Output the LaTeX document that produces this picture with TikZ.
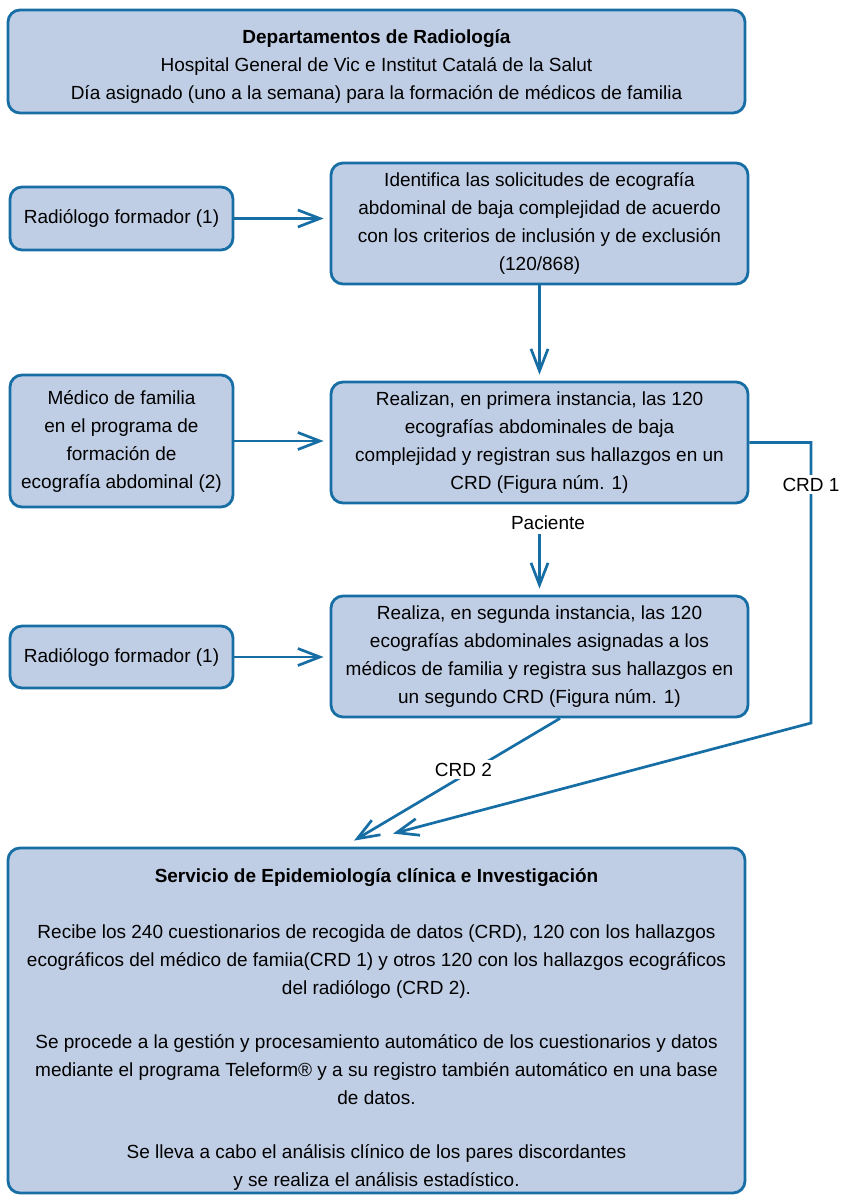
\documentclass[tikz,border=0pt]{standalone}
\usepackage{fontspec}
\setmainfont{Liberation Sans}
\usepackage{tikz}
\usetikzlibrary{arrows.meta,positioning,calc}
\definecolor{eblue}{RGB}{22,110,165}
\definecolor{efill}{RGB}{192,206,229}

\begin{document}
\begin{tikzpicture}[x=1pt,y=-1pt,font=\fontsize{19}{28}\selectfont,
  box/.style={draw=eblue,fill=efill,line width=2.8pt,rounded corners=12pt,align=center,inner sep=0pt},
  side/.style={box,minimum width=223pt},
  main/.style={box,minimum width=417pt,minimum height=121pt},
  arr/.style={-{Straight Barb[length=22pt,width=17pt]},line width=2.7pt,eblue,shorten >=6pt},
  lbl/.style={fill=white,text=black,inner sep=3pt}]
\useasboundingbox (0,0) rectangle (843,1197);
\node[box,minimum width=737pt,minimum height=103pt] (hdr) at (376.5,61.5)
  {\rule{0pt}{23pt}\textbf{Departamentos de Radiología}\\Hospital General de Vic e Institut Catalá de la Salut\\Día asignado (uno a la semana) para la formación de médicos de familia};
\node[side,minimum height=63pt] (rad1) at (121.5,218.5) {Radiólogo formador (1)};
\node[main] (ident) at (539.5,223.5) {Identifica las solicitudes de ecografía\\abdominal de baja complejidad de acuerdo\\con los criterios de inclusión y de exclusión\\(120/868)};
\node[side,minimum height=132pt] (med) at (121.5,441) {Médico de familia\\en el programa de\\formación de\\ecografía abdominal (2)};
\node[main] (real1) at (539.5,442.5) {Realizan, en primera instancia, las 120\\ecografías abdominales de baja\\complejidad y registran sus hallazgos en un\\CRD (Figura núm. 1)};
\node (pac) at (548,523) {Paciente};
\node[side,minimum height=62pt] (rad2) at (121.5,657) {Radiólogo formador (1)};
\node[main] (real2) at (539.5,656.5) {Realiza, en segunda instancia, las 120\\ecografías abdominales asignadas a los\\médicos de familia y registra sus hallazgos en\\un segundo CRD (Figura núm. 1)};
\node[box,minimum width=737pt,minimum height=345pt] (epi) at (376.5,1020.5)
  {\rule{0pt}{32pt}\textbf{Servicio de Epidemiología clínica e Investigación}\\[28pt]
   Recibe los 240 cuestionarios de recogida de datos (CRD), 120 con los hallazgos\\ecográficos del médico de famiia(CRD 1) y otros 120 con los hallazgos ecográficos\\del radiólogo (CRD 2).\\[26pt]
   Se procede a la gestión y procesamiento automático de los cuestionarios y datos\\mediante el programa Teleform® y a su registro también automático en una base\\de datos.\\[26pt]
   Se lleva a cabo el análisis clínico de los pares discordantes\\y se realiza el análisis estadístico.};
\coordinate (c1) at (811,442.5);
\coordinate (c2) at (811,723);
\draw[arr] (rad1.east) -- (rad1.east -| ident.west);
\draw[arr] (med.east) -- (med.east -| real1.west);
\draw[arr] (rad2.east) -- (rad2.east -| real2.west);
\draw[arr] (ident.south) -- (real1.north);
\draw[arr] (pac.south -| real2.north) -- (real2.north);
\draw[arr,shorten >=0pt] (real1.east) -- (c1) -- node[lbl,pos=0.15] {CRD 1} (c2) -- ($(epi.north)+(16.5,-13)$);
\draw[arr,shorten >=0pt] (real2.south) ++(20.5,0) -- node[lbl,pos=0.42,xshift=-10pt] {CRD 2} ($(epi.north)+(-22.5,-6)$);
\end{tikzpicture}
\end{document}
